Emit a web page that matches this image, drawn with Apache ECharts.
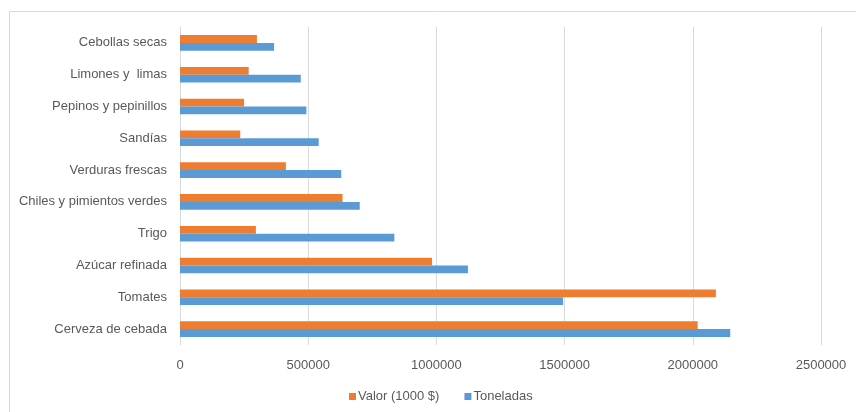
<!DOCTYPE html>
<html>
<head>
<meta charset="utf-8">
<script src="https://cdn.jsdelivr.net/npm/echarts@6/dist/echarts.min.js"></script>
<style>
  html, body { margin: 0; padding: 0; background: #ffffff; }
  #chart { width: 856px; height: 412px; }
</style>
</head>
<body>
<div id="chart"></div>
<script>
// Product categories, listed top to bottom
const categories = [
  'Cebollas secas',
  'Limones y  limas',
  'Pepinos y pepinillos',
  'Sandías',
  'Verduras frescas',
  'Chiles y pimientos verdes',
  'Trigo',
  'Azúcar refinada',
  'Tomates',
  'Cerveza de cebada'
];

// Value in thousands of dollars
const valor = [300000, 268000, 250000, 235000, 413000, 634000, 296000, 983000, 2090000, 2019000];

// Volume in tonnes
const toneladas = [367000, 471000, 493000, 541000, 629000, 701000, 836000, 1123000, 1494000, 2146000];

const seriesNames = ['Valor (1000 $)', 'Toneladas'];
const xTicks = { min: 0, max: 2500000, interval: 500000 };

const textColor = '#595959';
const fontFamily = '"Liberation Sans", Arial, sans-serif';

const chart = echarts.init(document.getElementById('chart'), null, { renderer: 'canvas' });

chart.setOption({
  backgroundColor: '#ffffff',
  animation: false,
  color: ['#ED7D31', '#5B9BD5'],
  graphic: [{
    type: 'rect',
    left: 7,
    top: 9,
    shape: { width: 880, height: 440 },
    style: { fill: 'none', stroke: '#d9d9d9', lineWidth: 1 },
    silent: true,
    z: -1
  }],
  grid: { left: 180, right: 35, top: 27, bottom: 67, containLabel: false },
  legend: {
    top: 390,
    left: 349,
    itemWidth: 7,
    itemHeight: 7,
    itemGap: 25,
    icon: 'rect',
    padding: 0,
    textStyle: { color: textColor, fontSize: 13, fontFamily: fontFamily, padding: [0, 0, 0, -3] },
    data: seriesNames
  },
  xAxis: {
    type: 'value',
    min: xTicks.min,
    max: xTicks.max,
    interval: xTicks.interval,
    axisLine: { show: false },
    axisTick: { show: false },
    axisLabel: {
      color: textColor,
      fontSize: 13,
      fontFamily: fontFamily,
      margin: 14,
      formatter: (v) => String(v)
    },
    splitLine: { show: true, lineStyle: { color: '#d9d9d9', width: 1 } }
  },
  yAxis: {
    type: 'category',
    inverse: true,
    data: categories,
    axisLine: { show: true, lineStyle: { color: '#d9d9d9' } },
    axisTick: { show: false },
    axisLabel: { color: textColor, fontSize: 13, fontFamily: fontFamily, margin: 13 }
  },
  series: [
    {
      name: seriesNames[0],
      type: 'bar',
      data: valor,
      barGap: '0%',
      barCategoryGap: '51%'
    },
    {
      name: seriesNames[1],
      type: 'bar',
      data: toneladas,
      barGap: '0%',
      barCategoryGap: '51%'
    }
  ]
});
</script>
</body>
</html>
